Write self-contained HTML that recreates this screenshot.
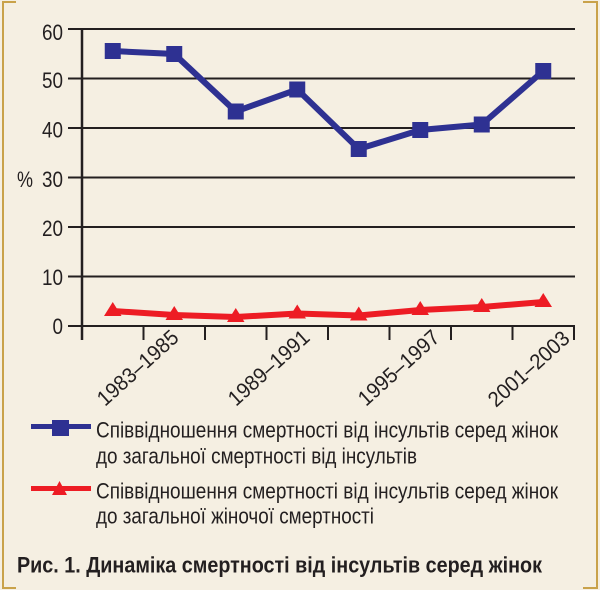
<!DOCTYPE html>
<html>
<head>
<meta charset="utf-8">
<style>
html,body{margin:0;padding:0;background:#f5efe2;}
svg{display:block;}
text{font-family:"Liberation Sans","Noto Sans CJK SC",sans-serif;fill:#231f20;}
</style>
</head>
<body>
<svg width="600" height="590" viewBox="0 0 600 590" xmlns="http://www.w3.org/2000/svg">
<rect x="0" y="0" width="600" height="590" fill="#f5efe2"/>
<!-- frame -->
<g stroke="#c9a24a" stroke-width="2" fill="none">
<polyline points="16,2 3,2 3,588 16,588"/>
<polyline points="583,2 597,2 597,588 583,588"/>
</g>
<!-- gridlines -->
<g stroke="#231f20" stroke-width="2">
<line x1="68" y1="29" x2="575" y2="29"/>
<line x1="68" y1="78.5" x2="575" y2="78.5"/>
<line x1="68" y1="128" x2="575" y2="128"/>
<line x1="68" y1="177.5" x2="575" y2="177.5"/>
<line x1="68" y1="227" x2="575" y2="227"/>
<line x1="68" y1="276.5" x2="575" y2="276.5"/>
<line x1="68" y1="326" x2="575" y2="326"/>
<line x1="82" y1="29" x2="82" y2="340" stroke-width="2.5"/>
<line x1="143.5" y1="326" x2="143.5" y2="340"/>
<line x1="205" y1="326" x2="205" y2="340"/>
<line x1="266.5" y1="326" x2="266.5" y2="340"/>
<line x1="328" y1="326" x2="328" y2="340"/>
<line x1="389.5" y1="326" x2="389.5" y2="340"/>
<line x1="451" y1="326" x2="451" y2="340"/>
<line x1="512.5" y1="326" x2="512.5" y2="340"/>
<line x1="574" y1="326" x2="574" y2="340"/>
</g>
<!-- y labels -->
<g font-size="22" text-anchor="end">
<text x="63" y="40" textLength="21" lengthAdjust="spacingAndGlyphs">60</text>
<text x="63" y="88" textLength="21" lengthAdjust="spacingAndGlyphs">50</text>
<text x="63" y="137.5" textLength="21" lengthAdjust="spacingAndGlyphs">40</text>
<text x="63" y="187" textLength="21" lengthAdjust="spacingAndGlyphs">30</text>
<text x="63" y="236" textLength="21" lengthAdjust="spacingAndGlyphs">20</text>
<text x="63" y="285" textLength="21" lengthAdjust="spacingAndGlyphs">10</text>
<text x="63" y="334" textLength="10.5" lengthAdjust="spacingAndGlyphs">0</text>
</g>
<text x="17" y="187" font-size="22" textLength="16" lengthAdjust="spacingAndGlyphs">%</text>
<!-- x labels -->
<g font-size="21.5">
<text transform="translate(105,407) rotate(-42)" textLength="101" lengthAdjust="spacingAndGlyphs">1983–1985</text>
<text transform="translate(236,407) rotate(-42)" textLength="101" lengthAdjust="spacingAndGlyphs">1989–1991</text>
<text transform="translate(366,407) rotate(-42)" textLength="101" lengthAdjust="spacingAndGlyphs">1995–1997</text>
<text transform="translate(496,408) rotate(-42)" textLength="101" lengthAdjust="spacingAndGlyphs">2001–2003</text>
</g>
<!-- blue series -->
<polyline points="112.75,51 174.25,54 235.75,111.5 297.25,89.5 358.75,149 420.25,130 481.75,124.5 543.25,71" fill="none" stroke="#2e3192" stroke-width="6" stroke-linejoin="miter"/>
<g fill="#2e3192">
<rect x="104.75" y="43" width="16" height="16"/>
<rect x="166.25" y="46" width="16" height="16"/>
<rect x="227.75" y="103.5" width="16" height="16"/>
<rect x="289.25" y="81.5" width="16" height="16"/>
<rect x="350.75" y="141" width="16" height="16"/>
<rect x="412.25" y="122" width="16" height="16"/>
<rect x="473.75" y="116.5" width="16" height="16"/>
<rect x="535.25" y="63" width="16" height="16"/>
</g>
<!-- red series -->
<polyline points="112.75,311 174.25,315 235.75,317 297.25,313.5 358.75,315.5 420.25,310 481.75,307 543.25,302" fill="none" stroke="#ed1c24" stroke-width="6" stroke-linejoin="round"/>
<g fill="#ed1c24">
<polygon points="112.75,302 104,316 121.5,316"/>
<polygon points="174.25,306 165.5,320 183,320"/>
<polygon points="235.75,308 227,322 244.5,322"/>
<polygon points="297.25,304.5 288.5,318.5 306,318.5"/>
<polygon points="358.75,306.5 350,320.5 367.5,320.5"/>
<polygon points="420.25,301 411.5,315 429,315"/>
<polygon points="481.75,298 473,312 490.5,312"/>
<polygon points="543.25,293 534.5,307 552,307"/>
</g>
<!-- legend -->
<line x1="31" y1="426.5" x2="91" y2="426.5" stroke="#2e3192" stroke-width="5"/>
<rect x="52" y="420" width="17" height="16" fill="#2e3192"/>
<line x1="31" y1="488.5" x2="91" y2="488.5" stroke="#ed1c24" stroke-width="5"/>
<polygon points="59.5,481 52,495 67,495" fill="#ed1c24"/>
<g font-size="22.5">
<text x="96" y="437.5" textLength="462" lengthAdjust="spacingAndGlyphs">Співвідношення смертності від інсультів серед жінок</text>
<text x="96" y="463.5" textLength="321" lengthAdjust="spacingAndGlyphs">до загальної смертності від інсультів</text>
<text x="96" y="498.5" textLength="462" lengthAdjust="spacingAndGlyphs">Співвідношення смертності від інсультів серед жінок</text>
<text x="96" y="523.5" textLength="278" lengthAdjust="spacingAndGlyphs">до загальної жіночої смертності</text>
</g>
<!-- caption -->
<text x="17" y="572.5" font-size="22.5" font-weight="bold" textLength="525" lengthAdjust="spacingAndGlyphs">Рис. 1. Динаміка смертності від інсультів серед жінок</text>
</svg>
</body>
</html>
